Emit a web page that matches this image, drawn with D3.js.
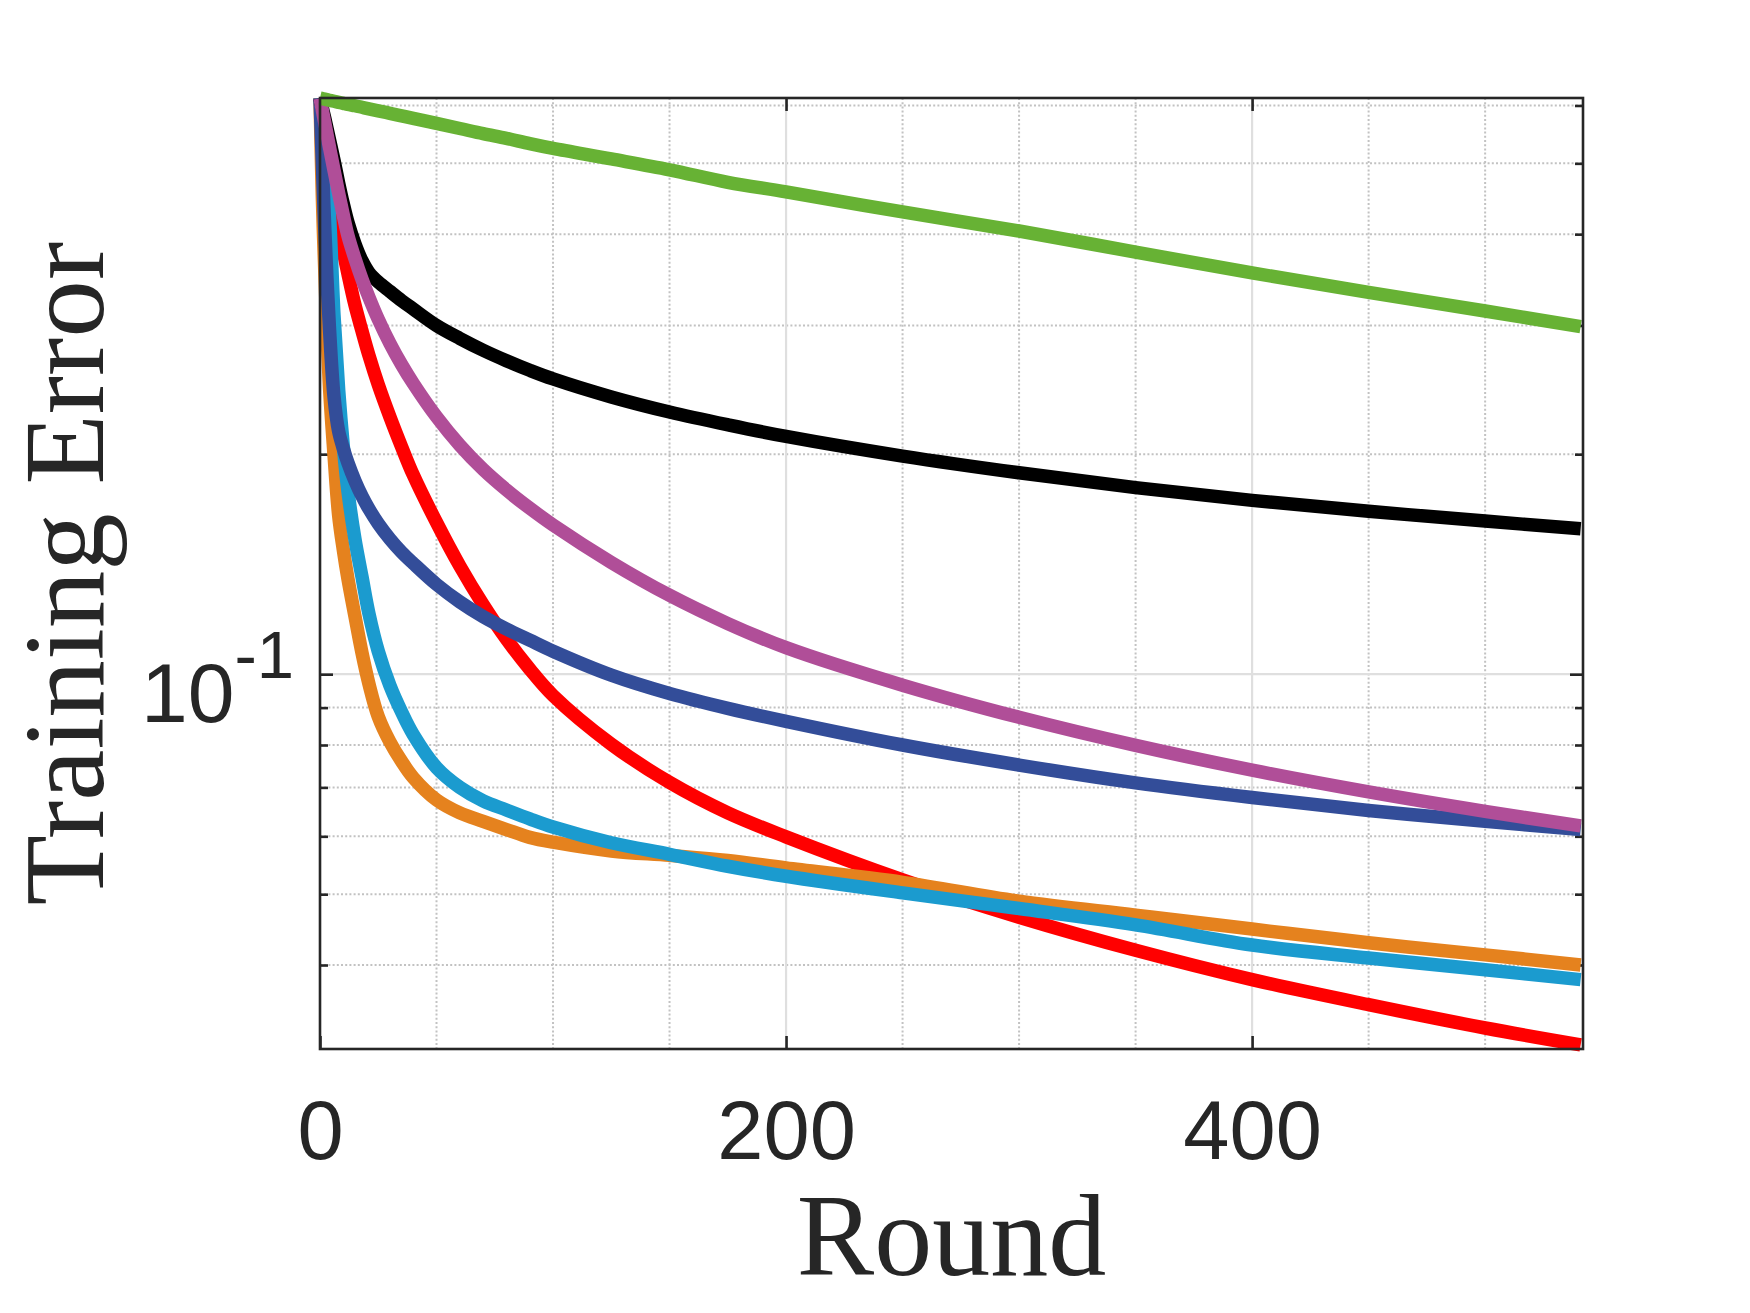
<!DOCTYPE html>
<html>
<head>
<meta charset="utf-8">
<script src="https://cdn.jsdelivr.net/npm/d3@7"></script>
<style>
  body { margin: 0; background: #ffffff; }
</style>
</head>
<body>
<svg id="drawing_region"></svg>
<script>
const rounds = [0, 1, 2, 4, 6, 8, 10, 12, 15, 18, 21, 25, 30, 35, 40, 50, 60, 70, 80, 90,
                100, 125, 150, 175, 200, 250, 300, 350, 400, 450, 500, 541];

const redErr = [0.614, 0.58, 0.547, 0.492, 0.447, 0.41, 0.379, 0.353, 0.32, 0.295, 0.273, 0.249,
                0.225, 0.2048, 0.1874, 0.1613, 0.1406, 0.1245, 0.1117, 0.1016, 0.0935, 0.0802,
                0.0711, 0.0646, 0.0599, 0.0523, 0.0465, 0.0419, 0.0382, 0.0353, 0.0328, 0.0311];
const orangeErr = [0.614, 0.45, 0.36, 0.25, 0.2, 0.165, 0.148, 0.135, 0.12, 0.107, 0.097, 0.0875,
                   0.0808, 0.076, 0.0722, 0.0673, 0.0646, 0.0629, 0.0613, 0.0598, 0.0589, 0.0573,
                   0.0565, 0.0556, 0.0543, 0.0519, 0.0489, 0.0468, 0.0448, 0.0429, 0.0413, 0.040];
const cyanErr = [0.614, 0.57, 0.53, 0.43, 0.31, 0.245, 0.205, 0.178, 0.153, 0.136, 0.121, 0.1075,
                 0.0965, 0.0888, 0.0827, 0.0745, 0.07, 0.0671, 0.0652, 0.0634, 0.0618, 0.0588,
                 0.0567, 0.0546, 0.0529, 0.0502, 0.0478, 0.0454, 0.0426, 0.0409, 0.0394, 0.0382];
const blueErr = [0.614, 0.5, 0.41, 0.30, 0.24, 0.215, 0.2036, 0.1946, 0.1839, 0.1753, 0.1683,
                 0.1607, 0.1531, 0.1469, 0.1418, 0.1327, 0.1256, 0.1199, 0.1153, 0.1113, 0.1075,
                 0.0997, 0.0941, 0.0898, 0.0862, 0.080, 0.0751, 0.071, 0.0678, 0.0651, 0.0629, 0.0613];
const blackErr = [0.614, 0.595, 0.577, 0.54, 0.505, 0.47, 0.44, 0.415, 0.388, 0.368, 0.3545,
                  0.344, 0.334, 0.3245, 0.316, 0.3, 0.288, 0.2775, 0.2685, 0.2605, 0.2535, 0.2395,
                  0.2284, 0.2194, 0.2115, 0.1988, 0.1886, 0.18, 0.1729, 0.1671, 0.162, 0.1581];
const magentaErr = [0.614, 0.591, 0.569, 0.5275, 0.4894, 0.455, 0.4246, 0.398, 0.3703, 0.3472,
                    0.328, 0.306, 0.2836, 0.2653, 0.25, 0.225, 0.2057, 0.1906, 0.1787, 0.1687,
                    0.16, 0.1422, 0.1282, 0.1173, 0.1087, 0.0966, 0.0873, 0.0799, 0.0739, 0.069,
                    0.0649, 0.062];
const greenErr = [0.614, 0.613, 0.612, 0.610, 0.608, 0.606, 0.604, 0.602, 0.5995, 0.5966, 0.5937,
                  0.590, 0.5854, 0.5807, 0.576, 0.567, 0.558, 0.549, 0.541, 0.532, 0.524, 0.507,
                  0.490, 0.471, 0.457, 0.429, 0.404, 0.378, 0.354, 0.333, 0.314, 0.299];

// drawing order, bottom to top
const seriesValues = [redErr, orangeErr, cyanErr, blueErr, blackErr, magentaErr, greenErr];
const seriesColors = ['#ff0000', '#e5821e', '#1b9bcf', '#334d99', '#000000', '#b04e98', '#67b234'];

const xDomain = [0, 542];
const yDomain = [0.0307, 0.6143];
const xTicks = [0, 200, 400];
const xMinorTicks = [50, 100, 150, 250, 300, 350, 450, 500];
const yTicks = [0.1];
const yMinorTicks = [0.04, 0.05, 0.06, 0.07, 0.08, 0.09, 0.2, 0.3, 0.4, 0.5, 0.6];

var config = {
    parent: '#drawing_region',
    width: 1750,
    height: 1313,
    margin: {top:98, right:167, bottom:264, left:320}
};

class LineChart {

    constructor( config, data ) {
        this.config = {
            parent: config.parent,
            width: config.width || 256,
            height: config.height || 128,
            margin: config.margin || {top:10, right:10, bottom:20, left:60}
        }
        this.data = data;
        this.init();
    }

    init() {
        let self = this;

        self.svg = d3.select( self.config.parent )
            .attr('width', self.config.width)
            .attr('height', self.config.height)
            .style('display', 'block');

        self.svg.append('rect')
            .attr('width', self.config.width)
            .attr('height', self.config.height)
            .attr('fill', '#ffffff');

        self.inner_width = self.config.width - self.config.margin.left - self.config.margin.right;
        self.inner_height = self.config.height - self.config.margin.top - self.config.margin.bottom;

        self.chart = self.svg.append('g')
            .attr('transform', `translate(${self.config.margin.left}, ${self.config.margin.top})`);

        self.xscale = d3.scaleLinear()
            .domain(xDomain)
            .range([0, self.inner_width]);

        self.yscale = d3.scaleLog()
            .domain(yDomain)
            .range([self.inner_height, 0]);

        self.line = d3.line()
            .x(d => self.xscale(d.x))
            .y(d => self.yscale(d.y))
            .curve(d3.curveCatmullRom.alpha(0.5));
    }

    update() {
        let self = this;
        self.series = self.data.map( (vals, i) => ({
            color: seriesColors[i],
            points: rounds.map( (r, j) => ({x: r, y: vals[j]}) )
        }));
        self.render();
    }

    render() {
        let self = this;
        const W = self.inner_width, H = self.inner_height;

        // minor grid (dotted)
        self.chart.selectAll('line.xminor')
            .data(xMinorTicks)
            .enter().append('line')
            .attr('x1', d => self.xscale(d)).attr('x2', d => self.xscale(d))
            .attr('y1', 0).attr('y2', H)
            .attr('stroke', '#c2c2c2').attr('stroke-width', 2)
            .attr('stroke-dasharray', '2,2.2');

        self.chart.selectAll('line.yminor')
            .data(yMinorTicks)
            .enter().append('line')
            .attr('x1', 0).attr('x2', W)
            .attr('y1', d => self.yscale(d)).attr('y2', d => self.yscale(d))
            .attr('stroke', '#c2c2c2').attr('stroke-width', 2)
            .attr('stroke-dasharray', '2,2.2');

        // major grid (solid, light)
        self.chart.selectAll('line.xmajor')
            .data(xTicks.filter(d => d > 0))
            .enter().append('line')
            .attr('x1', d => self.xscale(d)).attr('x2', d => self.xscale(d))
            .attr('y1', 0).attr('y2', H)
            .attr('stroke', '#dfdfdf').attr('stroke-width', 2.2);

        self.chart.selectAll('line.ymajor')
            .data(yTicks)
            .enter().append('line')
            .attr('x1', 0).attr('x2', W)
            .attr('y1', d => self.yscale(d)).attr('y2', d => self.yscale(d))
            .attr('stroke', '#dfdfdf').attr('stroke-width', 2.2);

        // axes ticks (inward, on all four sides)
        const tickStyle = g => {
            g.select('.domain').remove();
            g.selectAll('.tick line').attr('stroke', '#262626').attr('stroke-width', 2.6);
        };

        self.chart.append('g')
            .attr('transform', `translate(0, ${H})`)
            .call(d3.axisBottom(self.xscale).tickValues(xTicks).tickSize(-13).tickPadding(51))
            .call(tickStyle)
            .call(g => g.selectAll('.tick text')
                .attr('fill', '#262626')
                .attr('font-family', '"Liberation Sans", Arial, Helvetica, sans-serif')
                .attr('font-size', 83));

        self.chart.append('g')
            .call(d3.axisTop(self.xscale).tickValues(xTicks).tickSize(-13).tickFormat(''))
            .call(tickStyle);

        self.chart.append('g')
            .call(d3.axisLeft(self.yscale).tickValues(yTicks).tickSize(-13).tickFormat(''))
            .call(tickStyle);
        self.chart.append('g')
            .call(d3.axisLeft(self.yscale).tickValues(yMinorTicks).tickSize(-8).tickFormat(''))
            .call(tickStyle);

        self.chart.append('g')
            .attr('transform', `translate(${W}, 0)`)
            .call(d3.axisRight(self.yscale).tickValues(yTicks).tickSize(-13).tickFormat(''))
            .call(tickStyle);
        self.chart.append('g')
            .attr('transform', `translate(${W}, 0)`)
            .call(d3.axisRight(self.yscale).tickValues(yMinorTicks).tickSize(-8).tickFormat(''))
            .call(tickStyle);

        // y tick label as 10^-1
        self.chart.selectAll('text.ylab')
            .data(yTicks)
            .enter().append('text')
            .attr('x', -179)
            .attr('y', d => self.yscale(d) + 48)
            .attr('fill', '#262626')
            .attr('font-family', '"Liberation Sans", Arial, Helvetica, sans-serif')
            .attr('font-size', 84)
            .text('10')
            .append('tspan')
            .attr('dy', -44)
            .attr('font-size', 67)
            .text(d => '-' + Math.abs(Math.round(Math.log10(d))));

        // curves
        self.chart.selectAll('path.curve')
            .data(self.series)
            .enter().append('path')
            .attr('d', d => self.line(d.points))
            .attr('fill', 'none')
            .attr('stroke', d => d.color)
            .attr('stroke-width', 13.5)
            .attr('stroke-linejoin', 'round')
            .attr('stroke-linecap', 'butt');

        // box
        self.chart.append('rect')
            .attr('x', 0).attr('y', 0)
            .attr('width', W).attr('height', H)
            .attr('fill', 'none')
            .attr('stroke', '#262626')
            .attr('stroke-width', 2.6);

        // axis labels
        self.chart.append('text')
            .attr('x', W / 2)
            .attr('y', H + 226)
            .attr('text-anchor', 'middle')
            .attr('fill', '#262626')
            .attr('font-family', '"Liberation Serif", "Times New Roman", serif')
            .attr('font-size', 116)
            .text('Round');

        self.chart.append('text')
            .attr('transform', `translate(${102.5 - self.config.margin.left}, ${H / 2}) rotate(-90)`)
            .attr('text-anchor', 'middle')
            .attr('fill', '#262626')
            .attr('font-family', '"Liberation Serif", "Times New Roman", serif')
            .attr('font-size', 115)
            .text('Training Error');
    }
}

const chart = new LineChart( config, seriesValues );
chart.update();
</script>
</body>
</html>
